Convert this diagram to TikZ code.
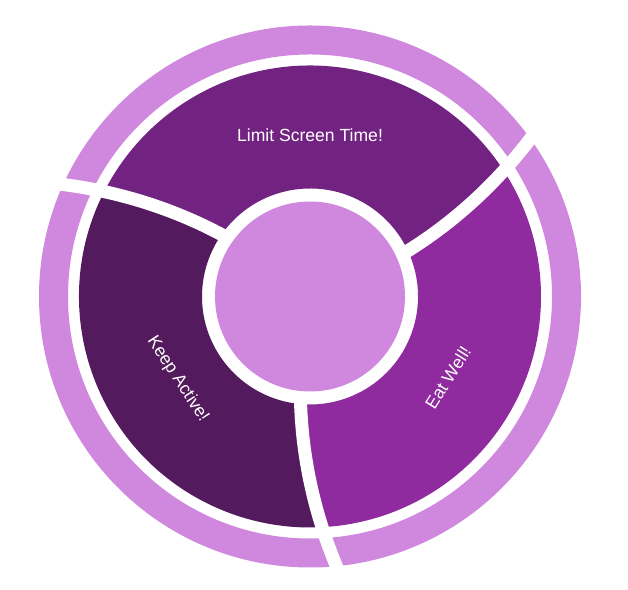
\documentclass[tikz,border=0pt]{standalone}
\usepackage{fontspec}
\setmainfont{Liberation Sans}
\usepackage{tikz}
\usetikzlibrary{positioning}
\definecolor{mylilac}{RGB}{208,136,223}
\definecolor{mytop}{RGB}{114,35,129}
\definecolor{myleft}{RGB}{83,26,93}
\definecolor{myright}{RGB}{143,43,159}
\tikzset{
  seglabel/.style={text=white, inner sep=0pt, font=\fontsize{10}{12}\selectfont},
  gapline/.style={white, line width=7.4pt, line cap=butt},
  ringfill/.style={fill=mylilac, even odd rule}
}
% twist of the separators (degrees per unit of radius)
\def\kspir{0.065}

\begin{document}
\begin{tikzpicture}[x=0.02cm, y=0.02cm]
  \useasboundingbox (0,0) rectangle (628,590);
  \begin{scope}[shift={(310,293.5)}]
  % Outer ring
  \path[ringfill] (0,0) circle[radius=271] (0,0) circle[radius=242];

  % Three segments between twisted edges
  \foreach \a/\col in {25/mytop, 145/myleft, 265/myright}{
    \fill[\col] plot[domain=108:231, samples=30] ({\a+\kspir*(\x-108)}:\x)
      arc[start angle={\a+\kspir*123}, end angle={\a+120+\kspir*123}, radius=231]
      -- plot[domain=231:108, samples=30] ({\a+120+\kspir*(\x-108)}:\x)
      arc[start angle={\a+120}, end angle={\a}, radius=108] -- cycle;
  }

  % Centre disc
  \fill[mylilac] (0,0) circle[radius=95];

  % White cuts through segments and ring
  \foreach \a in {25,145,265}
    \draw[gapline] plot[domain=100:284, samples=40] ({\a+\kspir*(\x-108)}:\x);

  % Labels
  \node[seglabel] (screen) at (90:161) {Limit Screen Time!};
  \node[seglabel, rotate=-57] (active) at (212:156) {Keep Active!};
  \node[seglabel, rotate=58] (eat) at (329.5:160) {Eat Well!};
  \end{scope}
\end{tikzpicture}
\end{document}
